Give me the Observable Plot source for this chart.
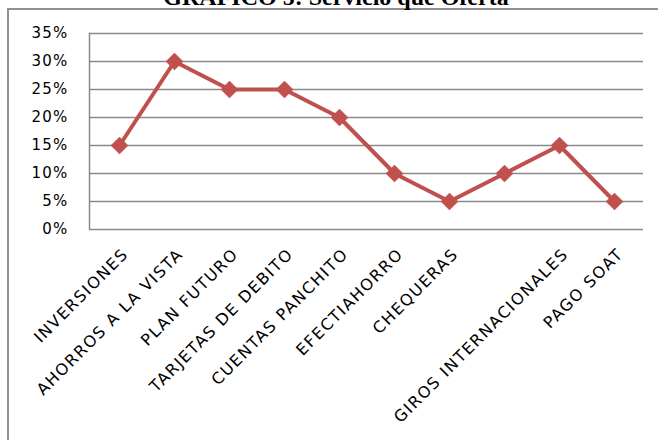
<!DOCTYPE html>
<html>
<head>
<meta charset="utf-8">
<script src="https://cdn.jsdelivr.net/npm/d3@7"></script>
<script src="https://cdn.jsdelivr.net/npm/@observablehq/plot@0.6"></script>
<style>
  html, body { margin: 0; padding: 0; background: #fff; }
  body { width: 658px; height: 440px; overflow: hidden; position: relative; }
  #box { position: absolute; left: 7px; top: 8px; width: 720px; height: 520px; border: 2px solid #8f8f8f; box-sizing: border-box; }
  #title { position: absolute; left: 0; top: -15px; width: 672px; text-align: center;
    font-family: "Liberation Serif", serif; font-weight: bold; font-size: 24px; line-height: 24px; color: #000; white-space: nowrap; }
  #chart { position: absolute; left: 0; top: 0; }
</style>
</head>
<body>
<div id="box"></div>
<div id="chart"></div>
<div id="title">GRAFICO 5: Servicio que Oferta</div>
<script>
const categories = ["INVERSIONES", "AHORROS A LA VISTA", "PLAN FUTURO", "TARJETAS DE DEBITO", "CUENTAS PANCHITO", "EFECTIAHORRO", "CHEQUERAS", "", "GIROS INTERNACIONALES", "PAGO SOAT"];
const values = [0.15, 0.30, 0.25, 0.25, 0.20, 0.10, 0.05, 0.10, 0.15, 0.05];
const yTicks = [0, 0.05, 0.10, 0.15, 0.20, 0.25, 0.30, 0.35];

const data = values.map((v, i) => ({i, v}));
const color = "#C0504D";

const chart = Plot.plot({
  width: 658,
  height: 440,
  marginLeft: 89,
  marginRight: 15,
  marginTop: 33,
  marginBottom: 211,
  style: {fontFamily: "'DejaVu Sans', sans-serif", fontSize: "15px", color: "#000", background: "transparent", overflow: "visible"},
  x: {type: "point", domain: d3.range(categories.length), padding: 0.5, label: null},
  y: {domain: [0, 0.35], label: null},
  marks: [
    Plot.ruleY(yTicks, {stroke: "#8a8a8a", strokeWidth: 1.5, strokeOpacity: 1}),
    Plot.frame({anchor: "left", stroke: "#8a8a8a", strokeWidth: 1.5}),
    Plot.axisY({ticks: yTicks, tickSize: 0, tickPadding: 21, tickFormat: d => Math.round(d * 100) + "%", fontSize: 15, label: null}),
    Plot.axisX({tickSize: 0, tickRotate: -45, tickPadding: 22, dx: 6, tickFormat: i => categories[i], fontSize: 16, label: null, className: "xlab"}),
    Plot.lineY(data, {x: "i", y: "v", stroke: color, strokeWidth: 4}),
    Plot.dot(data, {x: "i", y: "v", symbol: "diamond2", r: 7.5, fill: color, stroke: color, strokeWidth: 1})
  ]
});
d3.select(chart).selectAll("text").style("letter-spacing", "1.2px");
d3.select(chart).selectAll(".xlab text").style("letter-spacing", "1.5px");
document.getElementById("chart").appendChild(chart);
</script>
</body>
</html>
